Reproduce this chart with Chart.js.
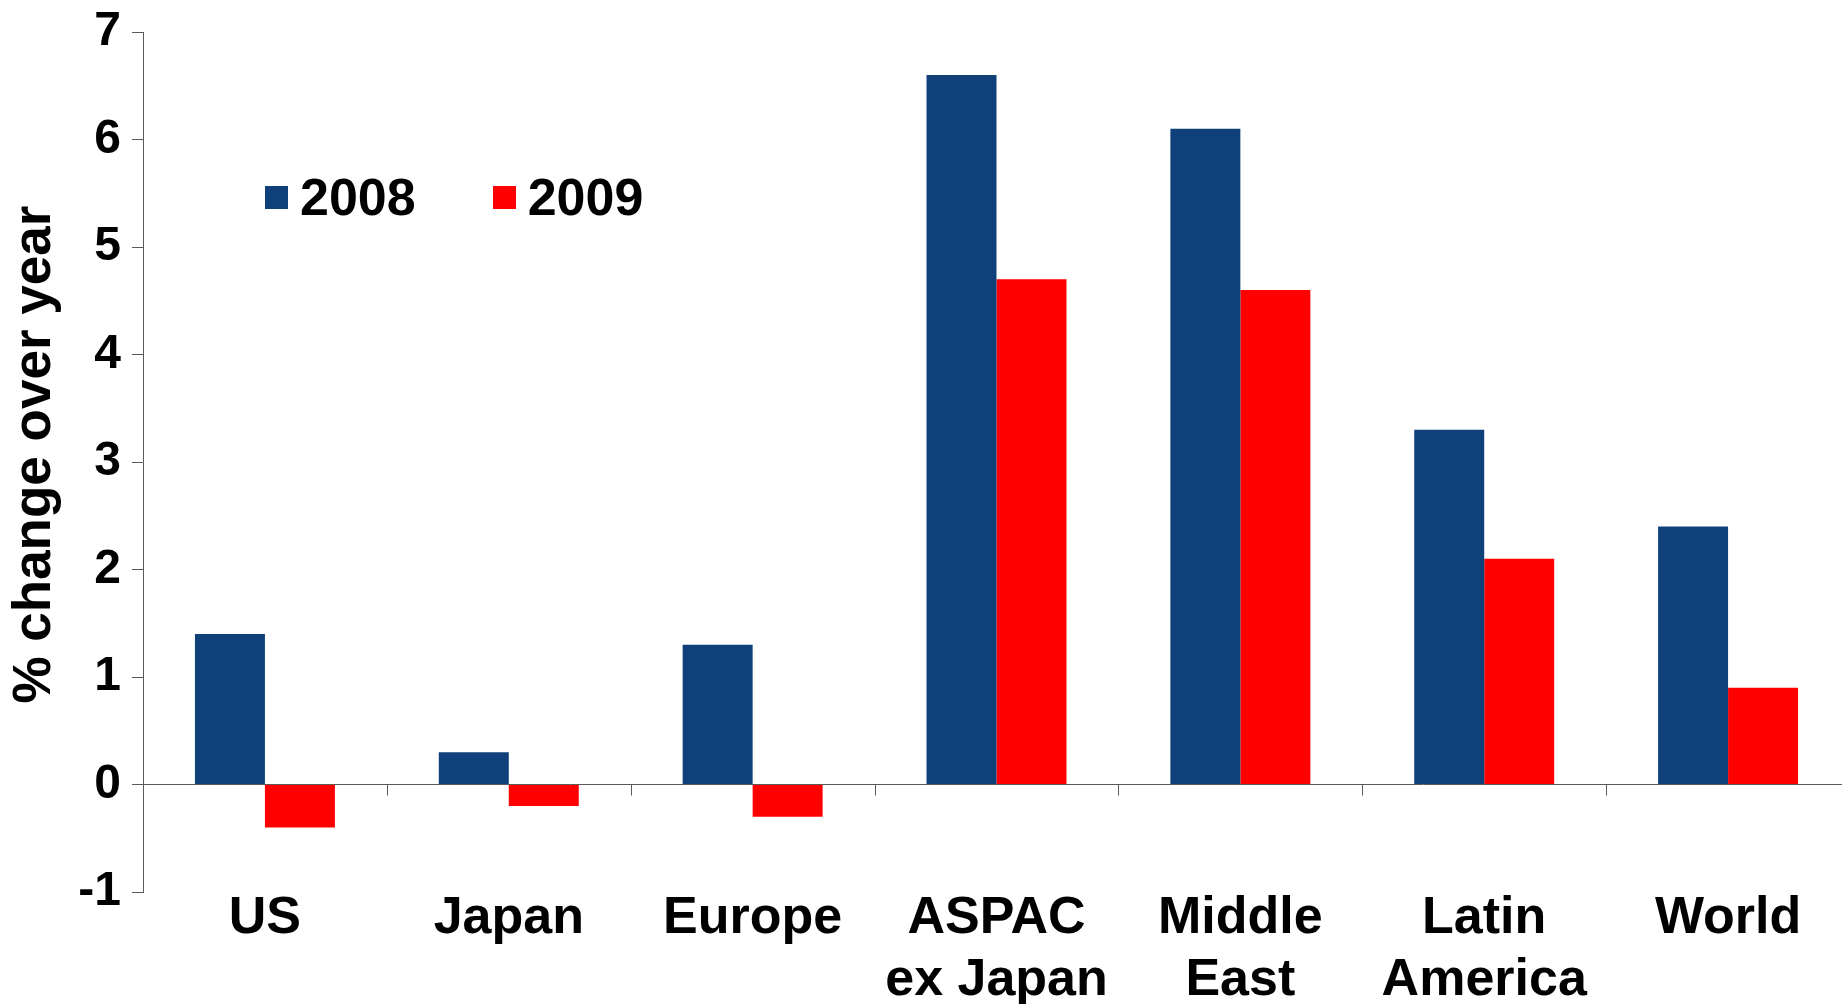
<!DOCTYPE html>
<html>
<head>
<meta charset="utf-8">
<script src="https://cdn.jsdelivr.net/npm/chart.js@4/dist/chart.umd.min.js"></script>
<style>
  html, body { margin: 0; padding: 0; background: #fff; overflow: hidden; }
  #wrap { position: relative; width: 1850px; height: 1004px; }
  #legend { position: absolute; left: 265px; top: 171px; display: flex; gap: 77px;
            font-family: "Liberation Sans", Arial, sans-serif; font-weight: bold; font-size: 52px; line-height: 52px; color: #000; }
  .item { display: flex; align-items: center; }
  .swatch { width: 23px; height: 23px; margin-right: 12px; margin-top: 0px; }
</style>
</head>
<body>
<div id="wrap">
  <canvas id="c"></canvas>
  <div id="legend"></div>
</div>
<script>
// Regional growth, % change over year
const categories = [["US"], ["Japan"], ["Europe"], ["ASPAC", "ex Japan"], ["Middle", "East"], ["Latin", "America"], ["World"]];
const seriesNames = ["2008", "2009"];
const values2008 = [1.4, 0.3, 1.3, 6.6, 6.1, 3.3, 2.4];
const values2009 = [-0.4, -0.2, -0.3, 4.7, 4.6, 2.1, 0.9];
const yTicks = [-1, 0, 1, 2, 3, 4, 5, 6, 7];
const seriesColors = ["#0F407A", "#FF0000"];

const FONT = "'Liberation Sans', Arial, sans-serif";
const AXIS_COLOR = "#5a5a5a";

// Short tick marks hanging below the zero line at each category boundary
const zeroLineTicks = {
  id: "zeroLineTicks",
  afterDatasetsDraw(chart) {
    const x = chart.scales.x, y = chart.scales.y;
    const y0 = y.getPixelForValue(0);
    const ctx = chart.ctx;
    ctx.save();
    ctx.strokeStyle = AXIS_COLOR;
    ctx.lineWidth = 1;
    ctx.beginPath();
    for (let i = 0; i <= categories.length; i++) {
      const px = Math.round(x.getPixelForValue(i - 0.5)) + 0.5;
      ctx.moveTo(px, y0);
      ctx.lineTo(px, y0 + 11);
    }
    ctx.stroke();
    ctx.restore();
  }
};

const canvas = document.getElementById("c");
canvas.width = 1850; canvas.height = 1004;

const chart = new Chart(canvas, {
  type: "bar",
  data: {
    labels: categories,
    datasets: [
      { label: seriesNames[0], data: values2008, backgroundColor: seriesColors[0] },
      { label: seriesNames[1], data: values2009, backgroundColor: seriesColors[1] }
    ]
  },
  options: {
    responsive: false,
    animation: false,
    devicePixelRatio: 1,
    layout: { padding: { top: 32, left: 0, right: 0, bottom: 0 } },
    datasets: { bar: { categoryPercentage: 0.574, barPercentage: 1.0, borderWidth: 0 } },
    plugins: { legend: { display: false }, tooltip: { enabled: false } },
    scales: {
      x: {
        grid: { display: false },
        border: { display: false },
        ticks: {
          color: "#000",
          font: { family: FONT, size: 52, weight: "bold", lineHeight: 1.2 },
          padding: -13,
          maxRotation: 0,
          autoSkip: false
        },
        afterFit(scale) { scale.height = 112; }
      },
      y: {
        min: -1, max: 7,
        afterBuildTicks(scale) { scale.ticks = yTicks.map(v => ({ value: v })); },
        grid: {
          drawOnChartArea: true,
          color: ctx => (ctx.tick && ctx.tick.value === 0) ? AXIS_COLOR : "rgba(0,0,0,0)",
          tickColor: AXIS_COLOR,
          tickLength: 11,
          lineWidth: 1
        },
        border: { display: true, color: AXIS_COLOR, width: 1 },
        ticks: {
          color: "#000",
          font: { family: FONT, size: 48, weight: "bold" },
          padding: 11
        },
        title: {
          display: true,
          text: " % change over year",
          color: "#000",
          font: { family: FONT, size: 53, weight: "bold", lineHeight: 1.2 },
          padding: { top: 4, bottom: 0 }
        },
        afterFit(scale) {
          scale.width = 143;
          scale.paddingTop = 0;
          scale.paddingBottom = 0;
        }
      }
    }
  },
  plugins: [zeroLineTicks]
});

// Legend built from the chart's datasets
const legendEl = document.getElementById("legend");
chart.data.datasets.forEach(ds => {
  const item = document.createElement("div");
  item.className = "item";
  const sw = document.createElement("span");
  sw.className = "swatch";
  sw.style.background = ds.backgroundColor;
  const txt = document.createElement("span");
  txt.textContent = ds.label;
  item.appendChild(sw);
  item.appendChild(txt);
  legendEl.appendChild(item);
});
</script>
</body>
</html>
